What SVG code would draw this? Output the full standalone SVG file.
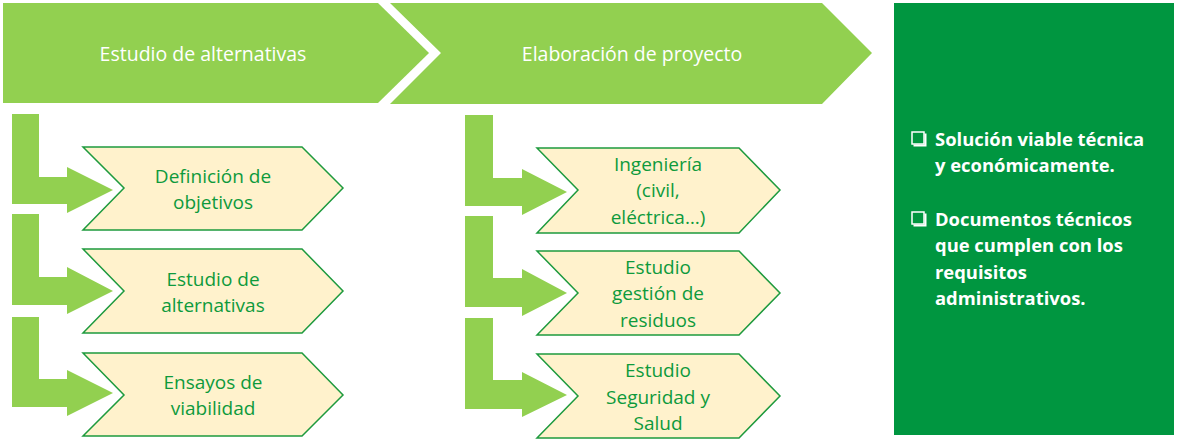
<svg xmlns="http://www.w3.org/2000/svg" width="1177" height="445" viewBox="0 0 1177 445">
<style>
.hdr{fill:#92D050}
.bend{fill:#92D050}
.box{fill:#FFF2CC;stroke:#1E9A3E;stroke-width:1.5}
.ht{font-family:"Open Sans","Liberation Sans",sans-serif;font-size:19.5px;fill:#FFFFFF;text-anchor:middle}
.bt{font-family:"Open Sans","Liberation Sans",sans-serif;font-size:19px;fill:#0E9A3C;text-anchor:middle}
.rt{font-family:"Open Sans","Liberation Sans",sans-serif;font-size:18.4px;font-weight:bold;fill:#FFFFFF}
</style>
<rect width="1177" height="445" fill="#FFFFFF"/>
<g id="header1">
<polygon class="hdr" points="3,3 378,3 429,53 378,103 3,103"/>
<text class="ht" x="203" y="61">Estudio de alternativas</text>
</g>
<g id="header2">
<polygon class="hdr" points="390,3 822,3 872,53 822,104 390,104 441,53"/>
<text class="ht" x="632" y="61">Elaboración de proyecto</text>
</g>
<g id="connectors">
<polygon class="bend" points="12,114 39,114 39,177 67,177 67,167 113,190 67,213 67,204 12,204"/>
<polygon class="bend" points="12,214 39,214 39,277 67,277 67,267 113,291 67,314 67,305 12,305"/>
<polygon class="bend" points="12,317 39,317 39,379 67,379 67,370 113,393 67,416 67,407 12,407"/>
<polygon class="bend" points="465,115 493,115 493,178 522,178 522,169 567,192 522,215 522,206 465,206"/>
<polygon class="bend" points="465,216 493,216 493,278 522,278 522,269 567,293 522,316 522,307 465,307"/>
<polygon class="bend" points="465,318 493,318 493,380 522,380 522,372 567,395 522,417 522,409 465,409"/>
</g>
<g id="box-definicion">
<polygon class="box" points="83,147 302,147 343,188 302,230 83,230 124,188"/>
<text class="bt" x="213" y="183">Definición de</text>
<text class="bt" x="213" y="209">objetivos</text>
</g>
<g id="box-estudio-alt">
<polygon class="box" points="83,249 302,249 343,291 302,333 83,333 124,291"/>
<text class="bt" x="213" y="286">Estudio de</text>
<text class="bt" x="213" y="312">alternativas</text>
</g>
<g id="box-ensayos">
<polygon class="box" points="83,353 302,353 343,395 302,436 83,436 124,395"/>
<text class="bt" x="213" y="389">Ensayos de</text>
<text class="bt" x="213" y="415">viabilidad</text>
</g>
<g id="box-ingenieria">
<polygon class="box" points="537,148 739,148 780,190 739,233 537,233 578,190"/>
<text class="bt" x="658" y="171">Ingeniería</text>
<text class="bt" x="658" y="197">(civil,</text>
<text class="bt" x="658" y="224">eléctrica…)</text>
</g>
<g id="box-residuos">
<polygon class="box" points="537,251 739,251 780,293 739,335 537,335 578,293"/>
<text class="bt" x="658" y="274">Estudio</text>
<text class="bt" x="658" y="300">gestión de</text>
<text class="bt" x="658" y="327">residuos</text>
</g>
<g id="box-seguridad">
<polygon class="box" points="537,354 739,354 780,396 739,438 537,438 578,396"/>
<text class="bt" x="658" y="377">Estudio</text>
<text class="bt" x="658" y="404">Seguridad y</text>
<text class="bt" x="658" y="430">Salud</text>
</g>
<g id="result">
<rect x="894" y="3" width="280" height="432" fill="#009640"/>
<rect x="912" y="132" width="12" height="12" fill="none" stroke="#FFFFFF" stroke-width="1.5"/>
<path d="M913.5,145.5 H925.5 V133.5" fill="none" stroke="#FFFFFF" stroke-width="2"/>
<rect x="912" y="212" width="12" height="12" fill="none" stroke="#FFFFFF" stroke-width="1.5"/>
<path d="M913.5,225.5 H925.5 V213.5" fill="none" stroke="#FFFFFF" stroke-width="2"/>
<text class="rt" x="935" y="146">Solución viable técnica</text>
<text class="rt" x="935" y="172">y económicamente.</text>
<text class="rt" x="935" y="226">Documentos técnicos</text>
<text class="rt" x="935" y="252">que cumplen con los</text>
<text class="rt" x="935" y="279">requisitos</text>
<text class="rt" x="935" y="305">administrativos.</text>
</g>
</svg>
